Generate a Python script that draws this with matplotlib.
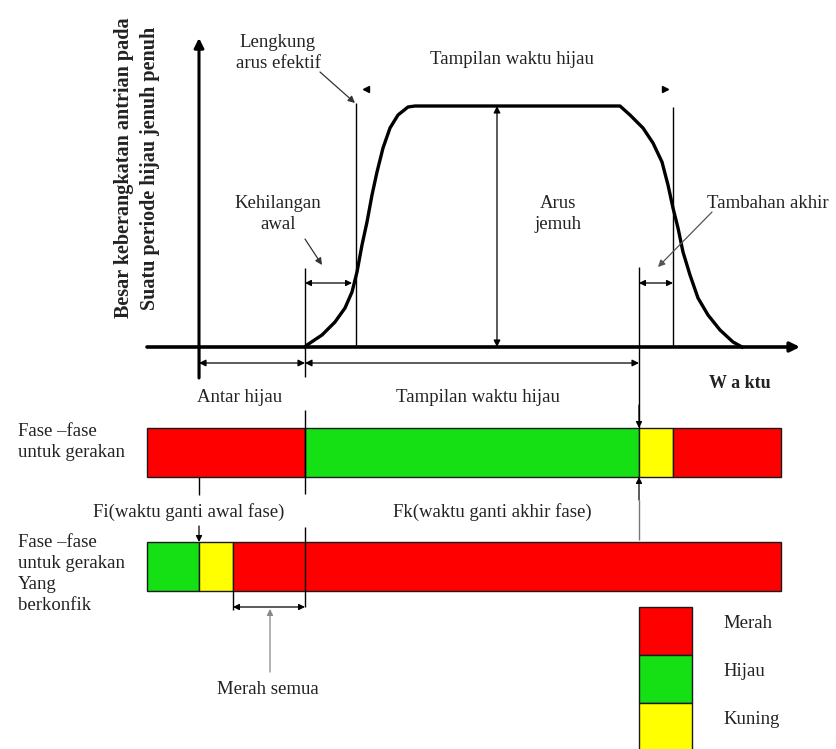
import matplotlib.pyplot as plt
from matplotlib.patches import Rectangle

# diagram coordinates are in pixels of the original drawing (y grows downwards)
curve_x = [305, 307, 322, 335, 345, 352, 357, 362, 367, 372, 377, 383, 390, 398, 408, 415,
           620, 630, 643, 653, 662, 668, 673, 678, 683, 690, 698, 708, 720, 733, 742]
curve_y = [347, 345, 335, 322, 308, 292, 272, 245, 222, 195, 172, 148, 128, 115, 107, 106,
           106, 115, 128, 143, 162, 185, 208, 228, 252, 275, 298, 315, 330, 342, 347]

main_edges = [147, 305, 639, 673, 781]
main_colors = ['red', 'green', 'yellow', 'red']
conf_edges = [147, 199, 233, 781]
conf_colors = ['green', 'yellow', 'red']
legend_names = ['Merah', 'Hijau', 'Kuning']
legend_colors = ['red', 'green', 'yellow']

palette = {'red': '#ff0000', 'green': '#14e014', 'yellow': '#ffff00'}
txt = '#222222'
serif = ['Liberation Serif', 'DejaVu Serif']

fig = plt.figure(figsize=(8.36, 7.49), dpi=100)
ax = fig.add_axes([0, 0, 1, 1])
ax.set_xlim(0, 836)
ax.set_ylim(749, 0)
ax.axis('off')


def line(x0, y0, x1, y1, lw=1.0, color='black'):
    ax.plot([x0, x1], [y0, y1], color=color, lw=lw, solid_capstyle='butt')


def arrow(tip, tail, style='-|>', lw=0.9, color='black', ms=10):
    ax.annotate('', xy=tip, xytext=tail,
                arrowprops=dict(arrowstyle=style, color=color, lw=lw,
                                mutation_scale=ms, shrinkA=0, shrinkB=0))


def label(x, y, s, size=13.5, ha='center', spacing=1.25, **kw):
    ax.text(x, y, s, ha=ha, va='center', fontsize=size, color=txt,
            family=serif, linespacing=spacing, **kw)


# axes
arrow((199, 38), (199, 378), lw=2.2, ms=14)
arrow((800, 347), (147, 347), lw=2.6, ms=14)

# saturation flow curve
ax.plot(curve_x, curve_y, color='black', lw=2.4, solid_joinstyle='round')

# vertical guide lines
line(305, 268, 305, 377)
line(356, 103, 356, 347)
line(673, 107, 673, 347)
line(639, 267, 639, 428)
line(199, 347, 199, 377)

# dimension arrows
arrow((305, 283), (352, 283), style='<|-|>', ms=9)
arrow((639, 283), (673, 283), style='<|-|>', ms=9)
arrow((497, 106), (497, 347), style='<|-|>', ms=10)
arrow((199, 363), (305, 363), style='<|-|>', ms=10)
arrow((305, 363), (639, 363), style='<|-|>', ms=10)
arrow((639, 428), (639, 405), ms=9)

# pointers
arrow((355, 103), (320, 72), color='#333333')
arrow((322, 265), (305, 239), color='#333333')
arrow((658, 267), (712, 212), color='#555555')
ax.plot([366], [89], marker='<', color='black', ms=5)
ax.plot([665], [89], marker='>', color='black', ms=5)

# text labels on curve
label(278, 53, 'Lengkung\narus efektif')
label(278, 214, 'Kehilangan\nawal')
label(512, 59, 'Tampilan waktu hijau')
label(558, 214, 'Arus\njemuh')
label(707, 203, 'Tambahan akhir', ha='left')
ax.text(740, 383, 'W a ktu', ha='center', va='center', fontsize=13,
        fontweight='bold', family=serif, color=txt)
ax.text(137, 168, 'Besar keberangkatan antrian pada\nSuatu periode hijau jenuh penuh',
        rotation=90, ha='center', va='center', fontsize=14.5,
        fontweight='bold', family=serif, color=txt, linespacing=1.45)
label(240, 398, 'Antar hijau')
label(478, 398, 'Tampilan waktu hijau')

# phase bars
bar_h = 49
for edges, cols, top in [(main_edges, main_colors, 428), (conf_edges, conf_colors, 542)]:
    for i, c in enumerate(cols):
        ax.add_patch(Rectangle((edges[i], top), edges[i + 1] - edges[i], bar_h,
                               facecolor=palette[c], edgecolor='#1a1a1a', lw=1.0))

label(18, 442, 'Fase –fase\nuntuk gerakan', ha='left', spacing=1.3)
label(18, 574, 'Fase –fase\nuntuk gerakan\nYang\nberkonfik', ha='left', spacing=1.3)

line(305, 410, 305, 494)
line(305, 527, 305, 607)
line(199, 477, 199, 495)
arrow((199, 542), (199, 526), ms=9)
arrow((639, 477), (639, 500), ms=9)
line(639, 500, 639, 540, color='#777777')
label(189, 512, 'Fi(waktu ganti awal fase)')
label(492, 512, 'Fk(waktu ganti akhir fase)')

# merah semua
line(233, 591, 233, 610)
arrow((233, 607), (305, 607), style='<|-|>', ms=9)
arrow((270, 609), (270, 672), color='#888888', ms=9)
label(268, 689, 'Merah semua')

# legend
for i, (name, c) in enumerate(zip(legend_names, legend_colors)):
    top = 607 + i * 48
    ax.add_patch(Rectangle((639, top), 53, 48, facecolor=palette[c],
                           edgecolor='#1a1a1a', lw=1.0))
    label(723, 623 + i * 48, name, ha='left')

fig.savefig('out.png', dpi=100)
